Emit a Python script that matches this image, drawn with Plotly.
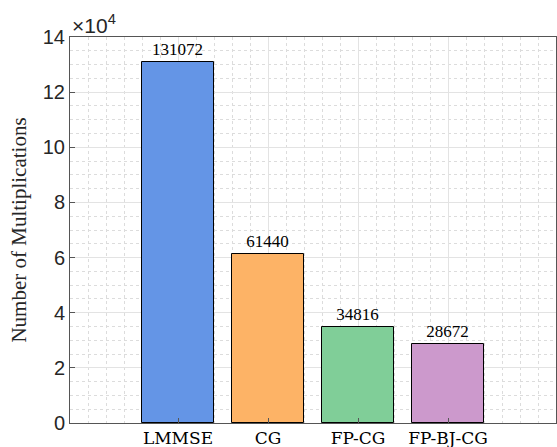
import plotly.graph_objects as go

categories = ["LMMSE", "CG", "FP-CG", "FP-BJ-CG"]
multiplications = [131072, 61440, 34816, 28672]
colors = ["#6495E6", "#FDB366", "#80CE98", "#CC99CC"]
positions = [1, 2, 3, 4]
scale = 1e4
y_ticks = [0, 2, 4, 6, 8, 10, 12, 14]

fig = go.Figure()
fig.add_trace(go.Bar(
    x=positions,
    y=[v / scale for v in multiplications],
    width=0.8,
    marker=dict(color=colors, line=dict(color="black", width=1)),
    text=[str(v) for v in multiplications],
    textposition="outside",
    textfont=dict(family="Liberation Serif", size=17, color="black"),
    cliponaxis=False,
))

axis_line = "#555555"
fig.update_layout(
    width=557, height=447,
    margin=dict(l=70, r=1, t=37, b=24),
    plot_bgcolor="white", paper_bgcolor="white",
    showlegend=False,
    bargap=0,
    xaxis=dict(
        range=[-0.2, 5.2],
        automargin=False,
        tickvals=positions, ticktext=categories,
        tickfont=dict(family="DejaVu Serif", size=17, color="black"),
        showline=True, linecolor=axis_line, linewidth=1, mirror=True,
        ticks="inside", ticklen=5, tickcolor=axis_line,
        showgrid=True, gridcolor="#e3e3e3", gridwidth=1,
        minor=dict(dtick=0.2, tick0=0, showgrid=True, gridcolor="#dcdcdc", griddash="dot", gridwidth=1),
        zeroline=False,
    ),
    yaxis=dict(
        range=[0, 14],
        automargin=False,
        tickvals=y_ticks,
        tickfont=dict(family="Liberation Sans", size=20, color="#262626"),
        showline=True, linecolor=axis_line, linewidth=1, mirror=True,
        ticks="inside", ticklen=5, tickcolor=axis_line,
        showgrid=True, gridcolor="#e3e3e3", gridwidth=1,
        minor=dict(dtick=0.5, tick0=0, showgrid=True, gridcolor="#dcdcdc", griddash="dot", gridwidth=1),
        zeroline=False,
        title=dict(text="Number of Multiplications", font=dict(family="Liberation Serif", size=21, color="#262626"), standoff=10),
    ),
)
fig.add_annotation(
    x=0, y=1, xref="paper", yref="paper", xanchor="left", yanchor="bottom",
    text="×10<sup>4</sup>", showarrow=False, yshift=-2,
    font=dict(family="Liberation Sans", size=21, color="#262626"),
)
fig.write_html("out.html")
